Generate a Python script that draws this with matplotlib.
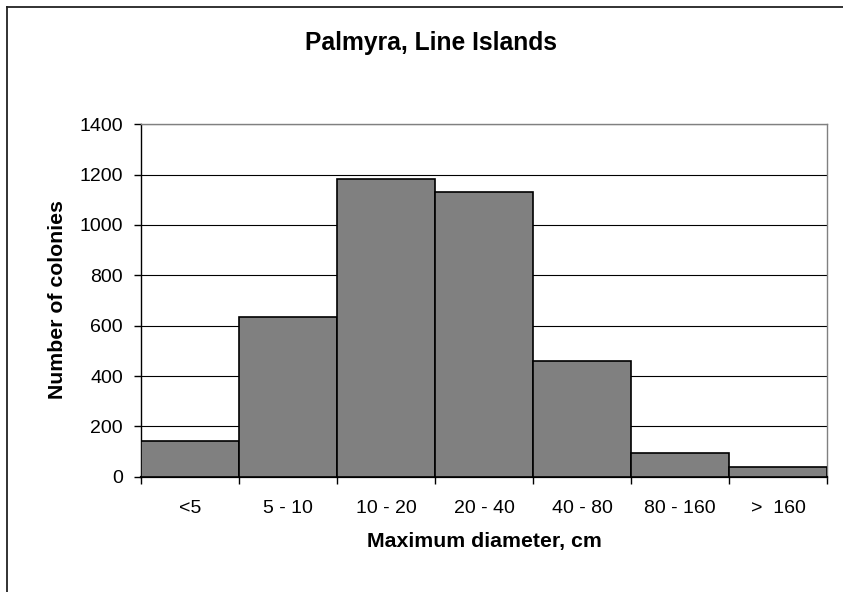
import matplotlib
matplotlib.use("Agg")
import matplotlib.pyplot as plt
from matplotlib.lines import Line2D
import numpy as np

## data ##
size_classes = ["<5", "5 - 10", "10 - 20", "20 - 40", "40 - 80", "80 - 160", ">  160"]
colonies = [143, 633, 1181, 1131, 458, 93, 37]
y_ticks = [0, 200, 400, 600, 800, 1000, 1200, 1400]

plt.rcParams['font.family'] = ['Liberation Sans', 'DejaVu Sans']

W, H = 843, 592
fig = plt.figure(figsize=(W / 100, H / 100), dpi=100)
ax = fig.add_axes([141 / W, 1 - 476.7 / H, (827 - 141) / W, (476.7 - 124.3) / H])

x = np.arange(len(colonies))
ax.set_axisbelow(True)
ax.yaxis.grid(True, color='black', linewidth=0.8)
ax.bar(x, colonies, width=1.0, color='#808080', edgecolor='black', linewidth=1.2, zorder=3)

ax.set_xlim(-0.5, len(colonies) - 0.5)
ax.set_ylim(0, 1400)
ax.set_yticks(y_ticks)
ax.tick_params(axis='y', labelsize=14, length=5, direction='out', width=1, pad=8)

# labels in the middle of each bar, tick marks on the bin edges
ax.set_xticks(x)
ax.set_xticklabels(size_classes)
ax.set_xticks(np.arange(len(colonies) + 1) - 0.5, minor=True)
ax.tick_params(axis='x', which='major', length=0, labelsize=14, pad=17)
ax.tick_params(axis='x', which='minor', length=5, width=1, direction='out')

for s in ['top', 'right']:
    ax.spines[s].set_color('#808080')
    ax.spines[s].set_linewidth(1)
ax.spines['left'].set_linewidth(1)
ax.spines['bottom'].set_linewidth(1.6)

# titles placed in pixel terms
fig.text(484 / W, 1 - 542 / H, "Maximum diameter, cm", fontsize=15.3, fontweight='bold',
         ha='center', va='center')
fig.text(57.5 / W, 1 - 300 / H, "Number of colonies", fontsize=15.3, fontweight='bold',
         ha='center', va='center', rotation=90)
fig.text(431 / W, 1 - 43 / H, "Palmyra, Line Islands", fontsize=17.7, fontweight='bold',
         ha='center', va='center')

# outer chart frame (only left and top edges are in view)
fig.add_artist(Line2D([6.5 / W, 6.5 / W], [0, 1 - 6.5 / H], transform=fig.transFigure,
                      color='#222222', linewidth=1.3))
fig.add_artist(Line2D([6.5 / W, 1], [1 - 6.5 / H, 1 - 6.5 / H], transform=fig.transFigure,
                      color='#222222', linewidth=1.3))

fig.savefig("out.png", dpi=100)
